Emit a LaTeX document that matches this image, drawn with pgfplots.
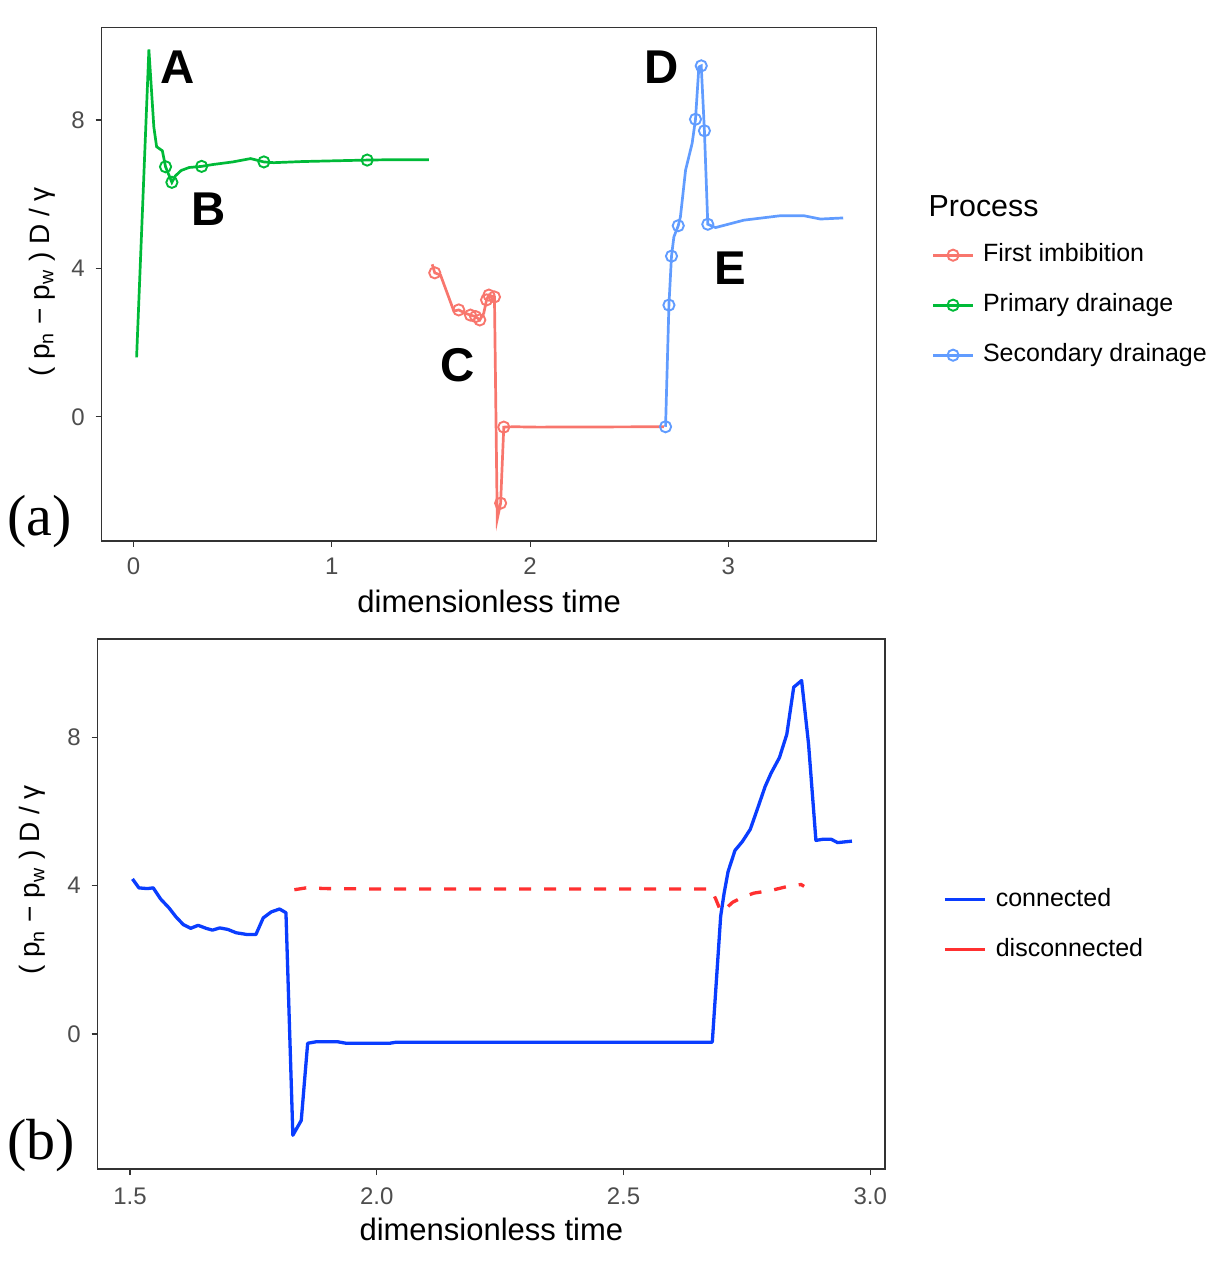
\documentclass[border=0pt]{standalone}
\usepackage{pgfplots}
\pgfplotsset{compat=1.18}
\usepackage{fontspec}
\setmainfont{Liberation Sans}
\newfontfamily\serifx{Liberation Serif}
\definecolor{imb}{HTML}{F8766D}
\definecolor{prim}{HTML}{00BA38}
\definecolor{sec}{HTML}{619CFF}
\definecolor{conn}{HTML}{0A3DFF}
\definecolor{disc}{HTML}{FF3030}
\definecolor{frame}{HTML}{333333}
\definecolor{ticktxt}{HTML}{4D4D4D}

\pgfplotsset{
  panel/.style={
    scale only axis,
    axis line style={frame, line width=0.6pt},
    every tick/.style={frame, line width=0.6pt},
    tick align=outside,
    major tick length=3pt,
    xtick pos=bottom, ytick pos=left,
    /pgf/number format/assume math mode=true,
    tick label style={font=\fontsize{12}{14}\selectfont, color=ticktxt, inner sep=0pt},
    yticklabel style={anchor=east, xshift=-5.35pt},
    clip=false,
    legend cell align=left,
    legend image code/.code={\draw[mark repeat=2,mark phase=2,##1] plot coordinates {(0pt,0pt) (10pt,0pt) (20pt,0pt)};},
  },
  ser/.style={line width=1.35pt, mark=o, mark size=2.8pt, mark options={solid, line width=0.95pt}},
}

\begin{document}
\begin{tikzpicture}
\path[use as bounding box] (0,0) rectangle (613pt,632pt);

% ---------------- panel (a)
\begin{axis}[panel,
  at={(50.85pt,361.5pt)}, anchor=south west,
  width=387.5pt, height=256.85pt,
  xmin=-0.161, xmax=3.748, ymin=-3.35, ymax=10.5,
  xtick={0,1,2,3}, ytick={0,4,8},
  xticklabel style={anchor=base, yshift=-13.65pt},
  xlabel={dimensionless time},
  xlabel style={at={(axis description cs:0.5,-0.1396)}, anchor=base, font=\fontsize{15.5}{18}\selectfont, inner sep=0pt},
  ylabel={( p\textsubscript{n} − p\textsubscript{w} ) D / γ},
  ylabel style={at={(axis description cs:-0.0680,0.504)}, anchor=base, rotate=0, font=\fontsize{14}{16}\selectfont, inner sep=0pt},
  legend style={at={(axis description cs:1.0710,0.5807)}, anchor=north west, draw=none, fill=none,
    inner sep=0pt, outer sep=0pt, row sep=12.5pt, column sep=4.3pt,
    font=\fontsize{12.5}{15}\selectfont,
    nodes={inner sep=0pt, text height=9.5pt, text depth=3pt}},
]
\addplot[imb, ser, mark indices={2,5,7,8,9,11,12,13,15,16}, forget plot] table {
x y
1.506 4.11
1.519 3.88
1.548 3.82
1.615 2.85
1.640 2.88
1.674 2.79
1.699 2.74
1.725 2.70
1.746 2.61
1.766 2.79
1.780 3.15
1.792 3.28
1.820 3.23
1.834 -2.76
1.851 -2.33
1.867 -0.28
1.918 -0.27
2.036 -0.28
2.674 -0.27
};
\addplot[prim, ser, mark indices={6,7,11,15,19}, forget plot] table {
x y
0.015 1.60
0.077 9.90
0.102 7.81
0.116 7.28
0.145 7.17
0.161 6.74
0.193 6.32
0.210 6.49
0.240 6.64
0.280 6.72
0.343 6.75
0.400 6.80
0.500 6.87
0.590 6.96
0.657 6.87
0.707 6.85
0.850 6.88
1.010 6.90
1.178 6.92
1.300 6.93
1.489 6.93
};
\addplot[sec, ser, mark indices={1,2,3,5,9,11,12,13}, forget plot] table {
x y
2.683 -0.27
2.700 3.01
2.713 4.33
2.725 4.85
2.747 5.15
2.758 5.39
2.784 6.65
2.817 7.37
2.834 8.02
2.851 9.43
2.863 9.46
2.879 7.71
2.896 5.19
2.935 5.10
3.078 5.30
3.263 5.42
3.380 5.42
3.464 5.33
3.579 5.36
};
\addlegendimage{imb, ser}
\addlegendentry{First imbibition}
\addlegendimage{prim, ser}
\addlegendentry{Primary drainage}
\addlegendimage{sec, ser}
\addlegendentry{Secondary drainage}
\end{axis}

% ---------------- panel (b)
\begin{axis}[panel,
  at={(48.85pt,47.5pt)}, anchor=south west,
  width=393.65pt, height=265pt,
  xmin=1.4345, xmax=3.030, ymin=-3.64, ymax=10.65,
  xtick={1.5,2.0,2.5,3.0}, xticklabels={1.5,2.0,2.5,3.0}, ytick={0,4,8},
  xticklabel style={anchor=base, yshift=-14.5pt},
  xlabel={dimensionless time},
  xlabel style={at={(axis description cs:0.5,-0.1358)}, anchor=base, font=\fontsize{15.5}{18}\selectfont, inner sep=0pt},
  ylabel={( p\textsubscript{n} − p\textsubscript{w} ) D / γ},
  ylabel style={at={(axis description cs:-0.0733,0.545)}, anchor=base, rotate=0, font=\fontsize{14}{16}\selectfont, inner sep=0pt},
  legend style={at={(axis description cs:1.0741,0.532)}, anchor=north west, draw=none, fill=none,
    inner sep=0pt, outer sep=0pt, row sep=12.5pt, column sep=4.6pt,
    font=\fontsize{12.5}{15}\selectfont,
    nodes={inner sep=0pt, text height=9.5pt, text depth=3pt}},
]
\addplot[conn, line width=1.65pt, line join=round] table {
x y
1.505 4.18
1.518 3.94
1.535 3.92
1.547 3.94
1.562 3.64
1.579 3.40
1.593 3.16
1.608 2.95
1.623 2.85
1.638 2.93
1.654 2.85
1.667 2.80
1.682 2.86
1.698 2.82
1.715 2.73
1.738 2.68
1.755 2.68
1.770 3.13
1.786 3.29
1.803 3.37
1.816 3.27
1.830 -2.73
1.847 -2.33
1.860 -0.25
1.877 -0.21
1.921 -0.21
1.938 -0.25
2.026 -0.25
2.040 -0.22
2.169 -0.22
2.680 -0.22
2.697 3.18
2.704 3.80
2.712 4.38
2.726 4.95
2.741 5.19
2.757 5.52
2.772 6.09
2.787 6.67
2.799 7.03
2.816 7.45
2.831 8.08
2.845 9.35
2.861 9.53
2.875 7.83
2.890 5.22
2.904 5.25
2.921 5.25
2.934 5.16
2.963 5.20
};
\addlegendentry{connected}
\addplot[disc, line width=1.65pt, dash pattern=on 6pt off 6.5pt, forget plot] table {
x y
1.833 3.89
1.857 3.94
1.900 3.92
2.000 3.91
2.677 3.91
2.687 3.64
2.697 3.31
2.704 3.34
2.721 3.55
2.745 3.71
2.765 3.80
2.799 3.87
2.833 3.98
2.860 4.03
2.866 3.98
};
\addlegendimage{disc, line width=1.65pt}
\addlegendentry{disconnected}
\end{axis}

% ---------------- annotations (pixel coordinates of the reference)
\begin{scope}[x=0.5pt, y=-0.5pt, shift={(0pt,632pt)}]
\tikzset{lab/.style={font=\bfseries\fontsize{23.7}{28}\selectfont, inner sep=0pt}}
\node[lab] at (178,67) {A};
\node[lab] at (208.3,209.3) {B};
\node[lab] at (457.8,364.7) {C};
\node[lab] at (661.7,67) {D};
\node[lab] at (730.7,268.7) {E};
\node[font=\serifx\fontsize{29}{34}\selectfont, anchor=base west, inner sep=0pt] at (7,536) {(a)};
\node[font=\serifx\fontsize{29}{34}\selectfont, anchor=base west, inner sep=0pt] at (7,1160) {(b)};
\node[font=\fontsize{15.2}{18}\selectfont, anchor=base west, inner sep=0pt] at (928.3,216.7) {Process};
\end{scope}
\end{tikzpicture}
\end{document}
